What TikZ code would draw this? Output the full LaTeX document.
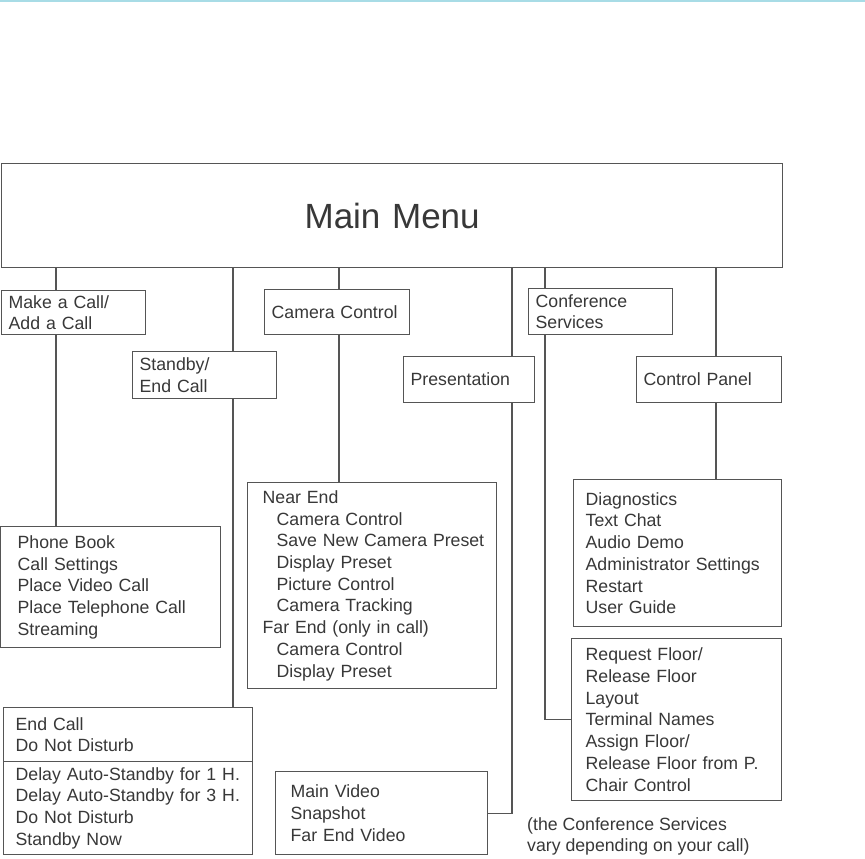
\documentclass[tikz,border=0pt]{standalone}
\usepackage{fontspec}
\setmainfont{Liberation Sans}

\definecolor{linegray}{HTML}{555555}
\definecolor{textgray}{HTML}{383838}
\definecolor{topblue}{HTML}{A8DCE6}

\newcommand{\menusub}[1]{\mbox{\hspace*{14pt}#1}}

\begin{document}
\begin{tikzpicture}[x=1pt,y=-1pt,
  box/.style={draw=linegray, line width=1.3pt, fill=white, anchor=north west,
    align=left, text=textgray, font=\fontsize{17.7}{21.7}\selectfont,
    inner xsep=7pt, inner ysep=0pt},
  link/.style={draw=linegray, line width=1.3pt}]

\useasboundingbox (0,0) rectangle (865,859);

% Top rule
\draw[topblue, line width=2pt] (0,1)--(865,1);

% Main menu
\node[box, align=center, inner xsep=0pt, text width=781pt, minimum height=104pt,
  font=\fontsize{35}{40}\selectfont] (main) at (1,163) {Main Menu};

% First level
\node[box, text width=130pt, minimum height=44pt] (make) at (1,290) {Make a Call/\\Add a Call};
\node[box, text width=130pt, minimum height=47pt] (standby) at (132,351) {Standby/\\End Call};
\node[box, text width=131pt, minimum height=45pt] (cam) at (264,289) {Camera Control};
\node[box, text width=117pt, minimum height=46pt] (pres) at (403,356) {Presentation};
\node[box, text width=130pt, minimum height=46pt] (conf) at (528,288) {Conference\\Services};
\node[box, text width=131pt, minimum height=46pt] (ctrl) at (636,356) {Control Panel};

% Second level
\node[box, inner xsep=17pt, text width=186pt, minimum height=121pt] (phone) at (0,526)
  {Phone Book\\Call Settings\\Place Video Call\\Place Telephone Call\\Streaming};
\node[box, inner xsep=15pt, text width=219pt, minimum height=206pt] (near) at (247,482)
  {Near End\\\menusub{Camera Control}\\\menusub{Save New Camera Preset}\\
   \menusub{Display Preset}\\\menusub{Picture Control}\\\menusub{Camera Tracking}\\
   Far End (only in call)\\\menusub{Camera Control}\\\menusub{Display Preset}};
\node[box, inner xsep=12pt, text width=184pt, minimum height=147pt] (diag) at (573,479)
  {Diagnostics\\Text Chat\\Audio Demo\\Administrator Settings\\Restart\\User Guide};
\node[box, inner xsep=14pt, text width=182pt, minimum height=162pt] (floor) at (571,638)
  {Request Floor/\\Release Floor\\Layout\\Terminal Names\\Assign Floor/\\
   \mbox{Release Floor from P.}\\Chair Control};
\node[box, inner xsep=12pt, text width=225pt, minimum height=54pt] (endtop) at (3,707)
  {End Call\\Do Not Disturb};
\node[box, inner xsep=12pt, text width=225pt, minimum height=93pt] (endbot) at (3,761)
  {\mbox{Delay Auto-Standby for 1 H.}\\\mbox{Delay Auto-Standby for 3 H.}\\Do Not Disturb\\Standby Now};
\node[box, inner xsep=15pt, text width=182pt, minimum height=83pt] (video) at (275,771)
  {Main Video\\Snapshot\\Far End Video};

% Note
\node[anchor=north west, inner sep=0pt, align=left, text=textgray,
  font=\fontsize{17.7}{21.7}\selectfont] (note) at (527,817)
  {(the Conference Services\\vary depending on your call)};

% Connectors
\foreach \x/\a/\b in {56/main/make, 56/make/phone, 233/main/standby, 233/standby/endtop,
    339/main/cam, 339/cam/near, 512/main/pres, 545/main/conf, 716/main/ctrl, 716/ctrl/diag}
{
\draw[link] (\a.south -| \x,0)--(\b.north -| \x,0);
}
\draw[link] (pres.south -| 512,0) |- (video.east);
\draw[link] (conf.south -| 545,0) |- (floor.west);

\end{tikzpicture}
\end{document}
